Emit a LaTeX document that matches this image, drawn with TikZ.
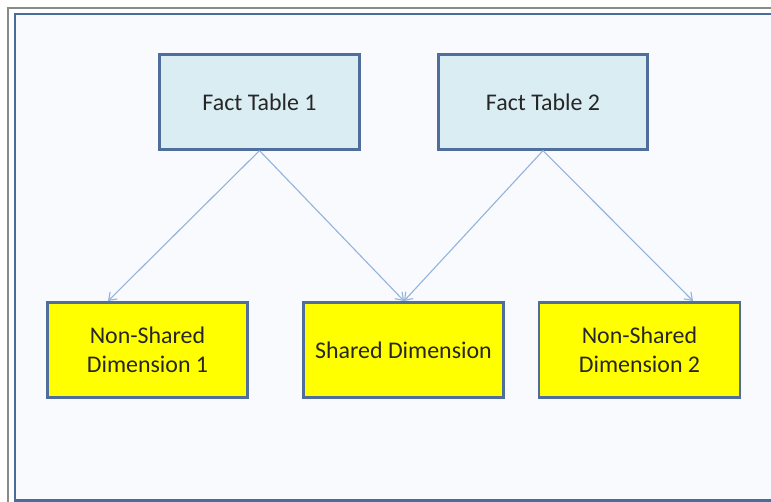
\documentclass[tikz,border=0pt]{standalone}
\usepackage{fontspec}
\setmainfont{Carlito}
\usetikzlibrary{arrows.meta}
\definecolor{bgc}{HTML}{F8FAFD}
\definecolor{framec}{HTML}{4A6C9B}
\definecolor{boxline}{HTML}{4F6E9C}
\definecolor{factfill}{HTML}{DAEDF3}
\definecolor{dimfill}{HTML}{FFFF00}
\definecolor{arrowc}{HTML}{92B4DC}
\definecolor{outerc}{HTML}{8A8A8A}
\tikzset{
  factbox/.style={draw=boxline, line width=2.2bp, fill=factfill, minimum width=200bp, minimum height=95bp, inner sep=0pt, font=\fontsize{24}{29}\selectfont, text=black!85, align=center},
  dimbox/.style={draw=boxline, line width=2.2bp, fill=dimfill, minimum width=200bp, minimum height=95bp, inner sep=0pt, font=\fontsize{24}{29}\selectfont, text=black!85, align=center},
  link/.style={draw=arrowc, line width=1.1bp, -{Straight Barb[length=7bp,width=10bp]}}
}
\begin{document}
\begin{tikzpicture}[x=1bp,y=-1bp]
\useasboundingbox (0,0) rectangle (771,502);
\fill[white] (0,0) rectangle (771,502);
\fill[bgc] (15,14) rectangle (775,506);
\draw[outerc, line width=2.2bp] (8,510) -- (8,8) -- (780,8);
\draw[framec, line width=2.4bp] (780,14) -- (15,14) -- (15,500.5) -- (780,500.5);
\node[factbox] (ft1) at (259.5,102) {Fact Table 1};
\node[factbox, minimum width=209bp] (ft2) at (543,102) {Fact Table 2};
\node[dimbox] (nsd1) at (147.5,350) {Non-Shared\\Dimension 1};
\node[dimbox] (sd) at (403.5,350) {Shared Dimension};
\node[dimbox, minimum width=201bp] (nsd2) at (639.5,350) {Non-Shared\\Dimension 2};
\coordinate (t1) at (108,301);
\coordinate (t2) at (404,301);
\coordinate (t3) at (693,301);
\draw[link] (ft1.south) -- (t1);
\draw[link] (ft1.south) -- (t2);
\draw[link] (ft2.south) -- (t2);
\draw[link] (ft2.south) -- (t3);
\end{tikzpicture}
\end{document}
